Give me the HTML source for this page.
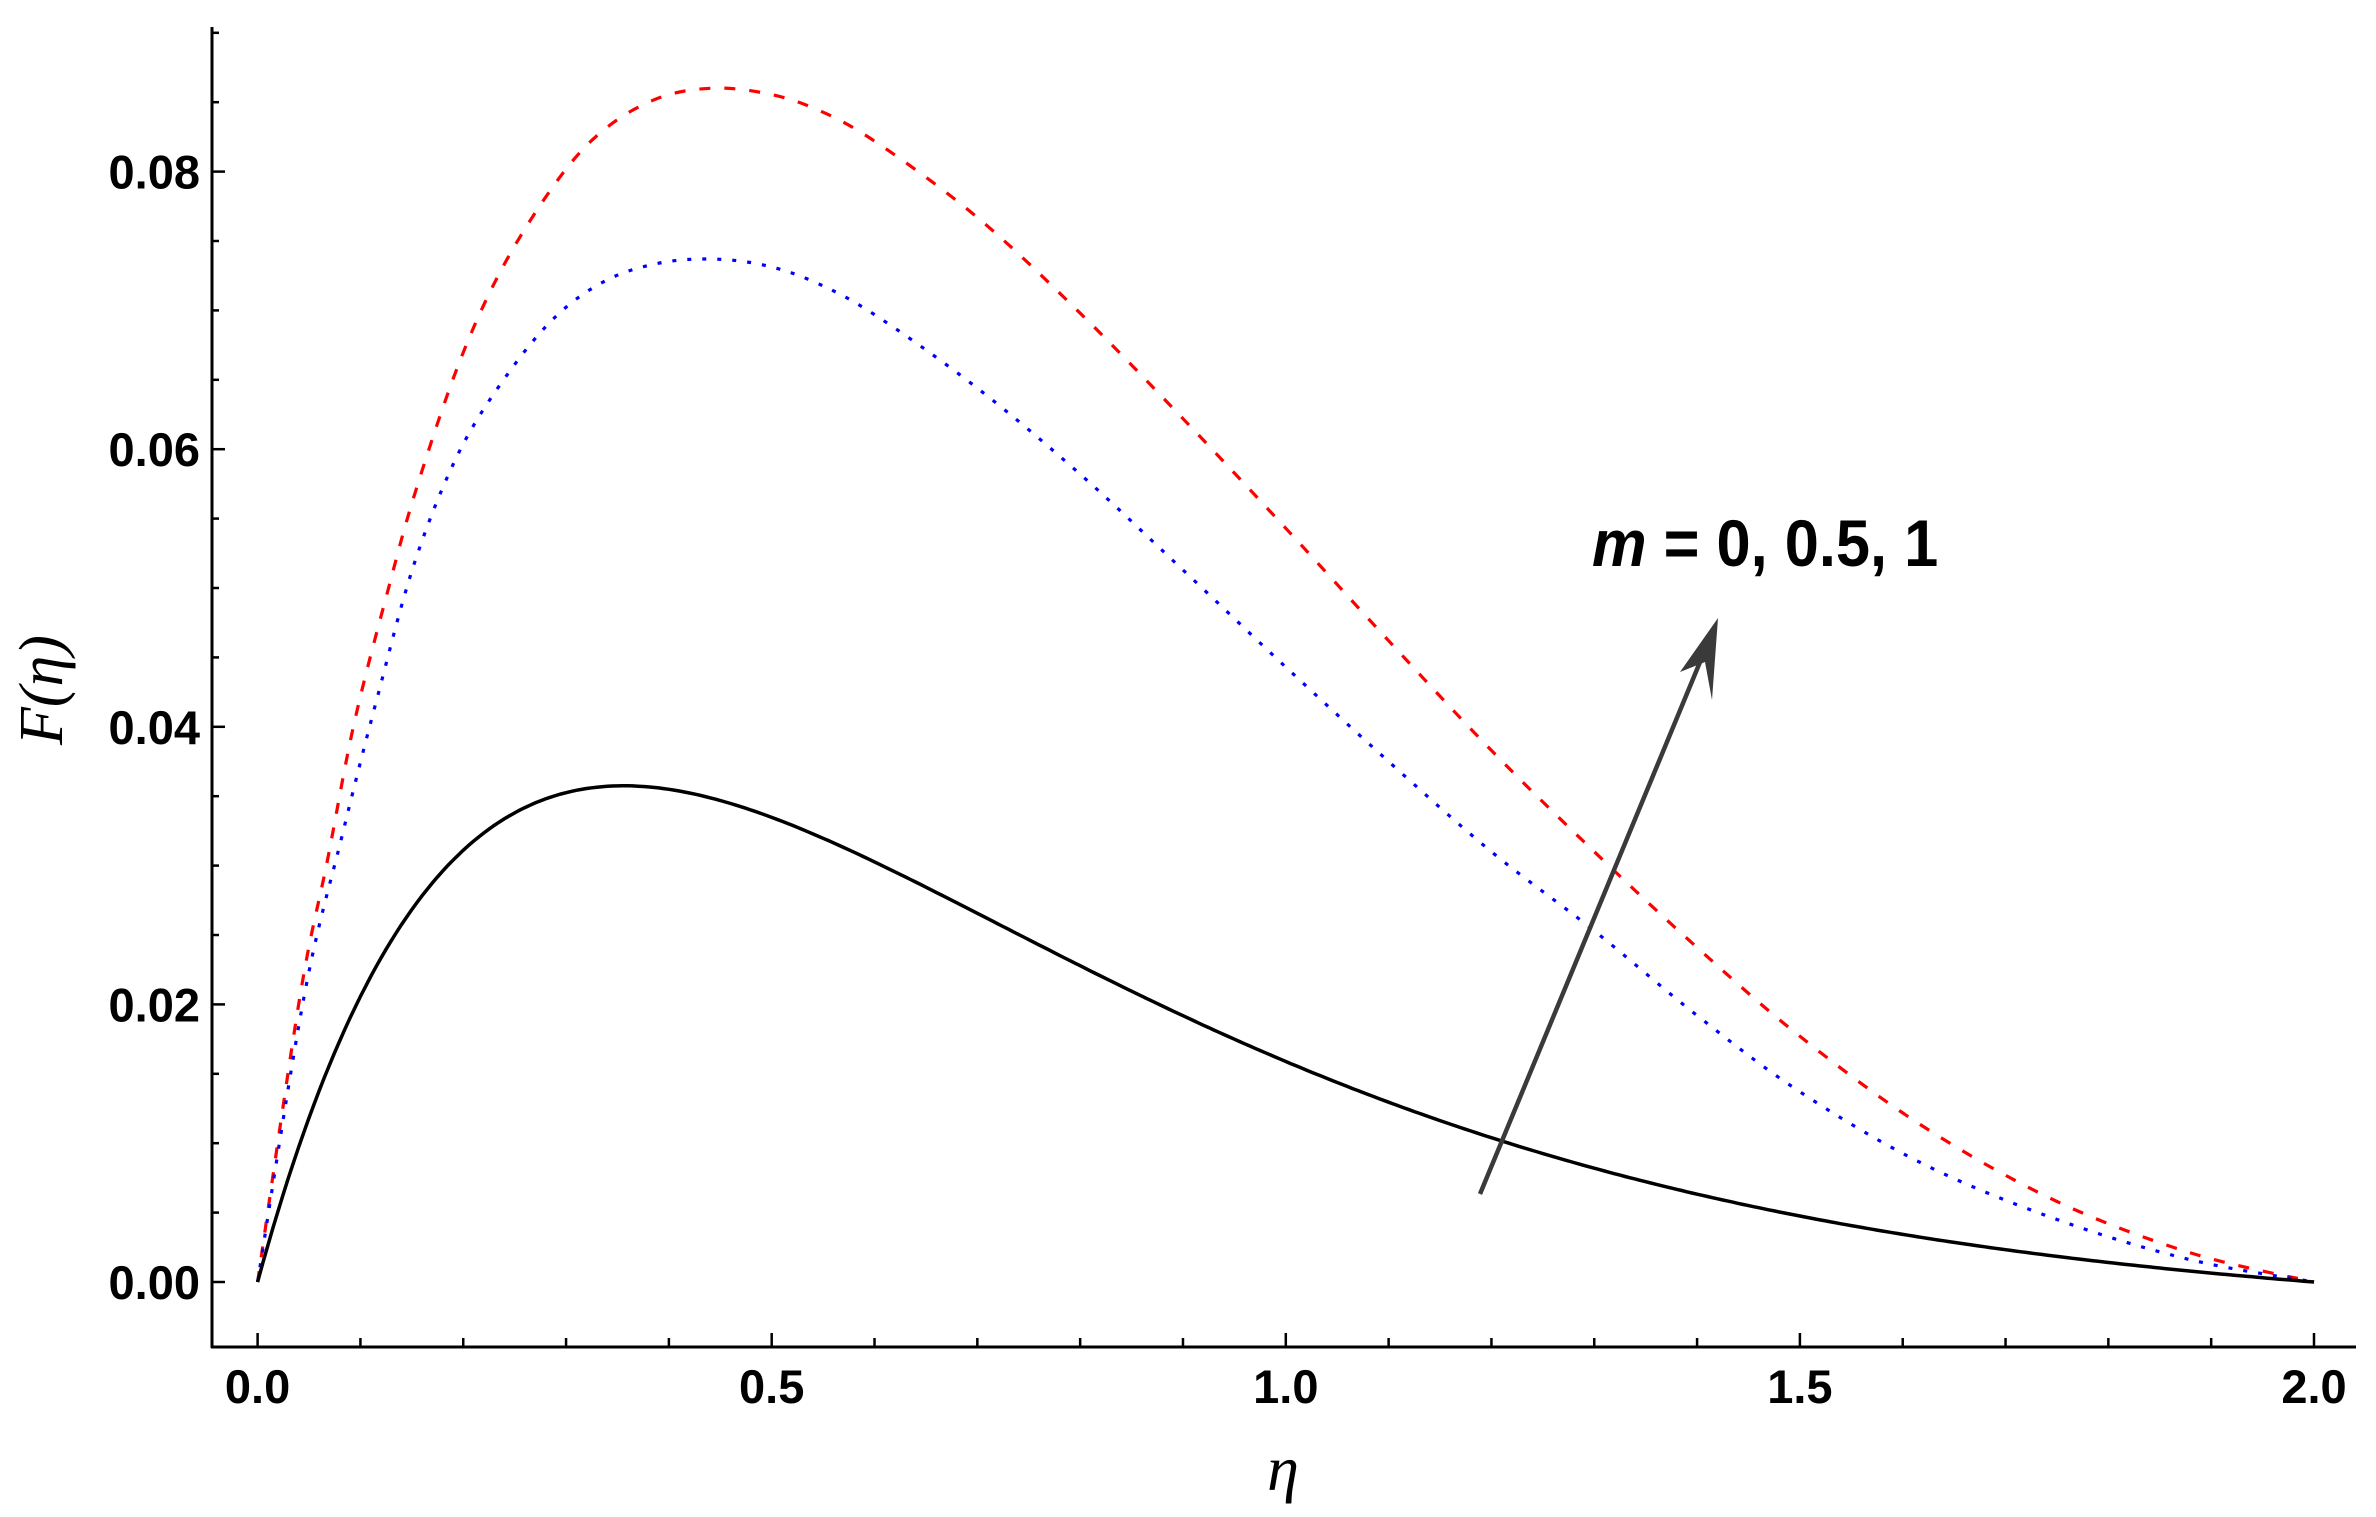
<!DOCTYPE html>
<html><head><meta charset="utf-8"><style>
html,body{margin:0;padding:0;background:#fff;}
svg{display:block;}
.t{font-family:"Liberation Sans",Arial,sans-serif;font-weight:bold;font-size:47px;fill:#000;}
</style></head><body>
<svg id="s" width="2376" height="1517" viewBox="0 0 2376 1517" xmlns="http://www.w3.org/2000/svg">
<g id="axes" stroke="#000" stroke-width="3" fill="none">
<line x1="212" y1="27" x2="212" y2="1348"/>
<line x1="211" y1="1347" x2="2356" y2="1347"/>
</g>
<g id="ticks" stroke="#000" stroke-width="2.5"></g>
<g id="labels"></g>
<g fill="none" stroke-width="3.2">
<path id="pr" stroke="#ff0000" stroke-dasharray="11 14"/>
<path id="pb" stroke="#0000ff" stroke-dasharray="4 11"/>
<path id="pk" stroke="#000" stroke-width="3.5"/>
</g>
<line x1="1480" y1="1194" x2="1705" y2="650" stroke="#3a3a3a" stroke-width="4.5"/>
<polygon points="1718,618 1680,672 1705,662 1712,700" fill="#3a3a3a"/>
<text x="1592" y="566" font-family="Liberation Sans, Arial, sans-serif" font-size="66" font-weight="bold" transform="translate(1592 566) scale(0.93 1) translate(-1592 -566)"><tspan font-style="italic">m</tspan> = 0, 0.5, 1</text>
<text transform="translate(62 690) rotate(-90)" text-anchor="middle" font-family="Liberation Serif, serif" font-style="italic" font-size="62">F(η)</text>
<text x="1283" y="1490" text-anchor="middle" font-family="Liberation Serif, serif" font-style="italic" font-size="64">η</text>
</svg>
<script>
const X=e=>257.6+e*1028.2, Y=v=>1282-v*13880;
const ns="http://www.w3.org/2000/svg";
const tk=document.getElementById('ticks'), lb=document.getElementById('labels');
function ln(x1,y1,x2,y2){const l=document.createElementNS(ns,'line');l.setAttribute('x1',x1);l.setAttribute('y1',y1);l.setAttribute('x2',x2);l.setAttribute('y2',y2);tk.appendChild(l);}
function tx(x,y,s,a){const t=document.createElementNS(ns,'text');t.setAttribute('x',x);t.setAttribute('y',y);t.setAttribute('class','t');t.setAttribute('text-anchor',a);t.textContent=s;lb.appendChild(t);}
for(let i=0;i<=20;i++){const x=X(i*0.1);ln(x,1347,x,1347-(i%5==0?14:9));}
for(let i=0;i<=4;i++){tx(X(i*0.5),1403,(i*0.5).toFixed(1),'middle');}
for(let i=-1;i<=18;i++){const v=i*0.005,y=Y(v);if(y<30||y>1340)continue;ln(212,y,212+(i%4==0?13:7),y);}
for(let i=0;i<=4;i++){tx(200,Y(i*0.02)+17,(i*0.02).toFixed(2),'end');}
function spline(pts){const P=pts.map(p=>[X(p[0]),Y(p[1])]);let d='M'+P[0][0]+' '+P[0][1];
for(let i=0;i<P.length-1;i++){const p0=P[Math.max(i-1,0)],p1=P[i],p2=P[i+1],p3=P[Math.min(i+2,P.length-1)];
const c1=[p1[0]+(p2[0]-p0[0])/6,p1[1]+(p2[1]-p0[1])/6],c2=[p2[0]-(p3[0]-p1[0])/6,p2[1]-(p3[1]-p1[1])/6];
d+=` C${c1[0].toFixed(1)} ${c1[1].toFixed(1)} ${c2[0].toFixed(1)} ${c2[1].toFixed(1)} ${p2[0].toFixed(1)} ${p2[1].toFixed(1)}`;}return d;}
const red=[[0,0],[0.041,0.0205],[0.068,0.0304],[0.094,0.0403],[0.127,0.0499],[0.155,0.0573],[0.198,0.0666],[0.242,0.0736],[0.296,0.0798],[0.34,0.0832],[0.39,0.0853],[0.44,0.086],[0.49,0.0857],[0.54,0.0846],[0.6,0.0822],[0.7,0.0767],[0.8,0.0698],[0.9,0.0622],[1.0,0.0543],[1.1,0.0462],[1.2,0.0383],[1.3,0.031],[1.4,0.0241],[1.5,0.0177],[1.62,0.0112],[1.75,0.0058],[1.88,0.0021],[2.0,0]];
const blue=[[0,0],[0.045,0.0205],[0.082,0.0321],[0.116,0.042],[0.153,0.0519],[0.196,0.0598],[0.245,0.0656],[0.292,0.0697],[0.34,0.0722],[0.39,0.0734],[0.44,0.0737],[0.49,0.0733],[0.54,0.0721],[0.6,0.0697],[0.7,0.0644],[0.8,0.0582],[0.9,0.0513],[1.0,0.0443],[1.1,0.0375],[1.2,0.031],[1.3,0.0253],[1.4,0.0192],[1.5,0.0137],[1.62,0.0085],[1.75,0.0045],[1.88,0.0016],[2.0,0]];
document.getElementById('pr').setAttribute('d',spline(red));
document.getElementById('pb').setAttribute('d',spline(blue));
let d='';for(let i=0;i<=400;i++){const e=i/200;const v=0.273*e*Math.exp(-2.78*e)-0.00105*e;d+=(i?'L':'M')+X(e).toFixed(1)+' '+Y(v).toFixed(1);}
document.getElementById('pk').setAttribute('d',d);
</script>
</body></html>
